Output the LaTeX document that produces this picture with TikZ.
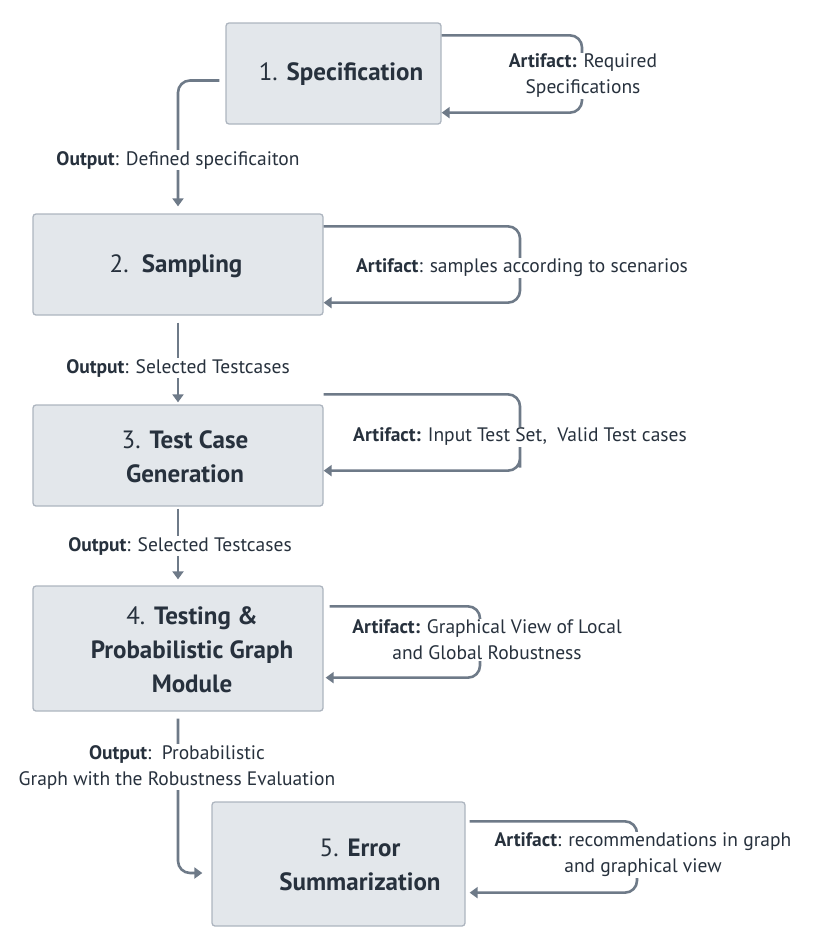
\documentclass[tikz,border=0pt]{standalone}
\usepackage{fontspec}
\setmainfont{PT Sans}
\usetikzlibrary{arrows.meta}
\definecolor{boxfill}{HTML}{E3E7EB}
\definecolor{boxborder}{HTML}{ADB5BF}
\definecolor{linec}{HTML}{6E7A88}
\definecolor{txt}{HTML}{27313D}
\tikzset{
 box/.style={draw=boxborder, fill=boxfill, line width=1.3pt, rounded corners=3pt, inner sep=0pt},
 btxt/.style={text=txt, font=\fontsize{25}{34}\selectfont, align=center, inner sep=0pt},
 ann/.style={text=txt, font=\fontsize{19.5}{26}\selectfont, fill=white, inner xsep=3pt, inner ysep=1pt, align=center},
 conn/.style={draw=linec, line width=2.6pt, rounded corners=12pt},
 arr/.style={-{Triangle[length=8pt,width=11pt]}}
}
\begin{document}
\begin{tikzpicture}[x=1pt,y=-1pt]
\useasboundingbox (0,0) rectangle (812,948);
% boxes
\node[box, minimum width=215pt, minimum height=101pt] (b1) at (333.5,73.5) {};
\node[box, minimum width=290pt, minimum height=101pt] (b2) at (178,264.5) {};
\node[box, minimum width=290pt, minimum height=101pt] (b3) at (178,455.5) {};
\node[box, minimum width=290pt, minimum height=125pt] (b4) at (178,648.5) {};
\node[box, minimum width=253pt, minimum height=124pt] (b5) at (338.5,864) {};
% box texts
\node[btxt] (t1) at (341,74) {1. \textbf{Specification}};
\node[btxt] (t2) at (176,266) {2.\ \ \textbf{Sampling}};
\node[btxt] (t3) at (185,457) {3. \textbf{Test Case}\\ \textbf{Generation}};
\node[btxt] (t4) at (192,650) {4. \textbf{Testing \&}\\ \textbf{Probabilistic Graph}\\ \textbf{Module}};
\node[btxt] (t5) at (360,865) {5. \textbf{Error}\\ \textbf{Summarization}};
% helper coordinates
\coordinate (c1) at (582,0);
\coordinate (c2) at (520,0);
\coordinate (c4) at (480,0);
\coordinate (c5) at (637,0);
% output connectors
\draw[conn,arr] ([xshift=-6pt,yshift=-7pt]b1.west) -| ([yshift=7pt]b2.north);
\draw[conn,arr] ([yshift=-7pt]b2.south) -- ([yshift=2pt]b3.north);
\draw[conn,arr] ([yshift=-2pt]b3.south) -- ([yshift=6pt]b4.north);
\draw[conn,arr] ([yshift=-7pt]b4.south) |- ([xshift=-9pt,yshift=-9pt]b5.west);
% artifact loops
\draw[conn,arr] ([yshift=-13pt]b1.north east) -| (c1 |- b1.center) |- ([yshift=12pt]b1.south east);
\draw[conn,arr] ([yshift=-13pt]b2.north east) -| (c2 |- b2.center) |- ([yshift=13pt]b2.south east);
\draw[conn,arr] ([yshift=10pt]b3.north east) -| (c2 |- b3.center) |- ([yshift=36pt]b3.south east);
\draw[conn,arr] ([xshift=6pt,yshift=-21pt]b4.north east) -| (c4 |- b4.center) |- ([xshift=2pt,yshift=34pt]b4.south east);
\draw[conn,arr] ([xshift=4pt,yshift=-20pt]b5.north east) -| (c5 |- b5.center) |- ([xshift=4pt,yshift=34pt]b5.south east);
% labels
\node[ann] (o1) at (178,160) {\textbf{Output}: Defined specificaiton};
\node[ann] (o2) at (178,368) {\textbf{Output}: Selected Testcases};
\node[ann] (o3) at (180,546) {\textbf{Output}: Selected Testcases};
\node[ann] (o4) at (177,767) {\textbf{Output}:\ \ Probabilistic\\ Graph with the Robustness Evaluation};
\node[ann] (a1) at (583,76) {\textbf{Artifact:} Required\\ Specifications};
\node[ann] (a2) at (522,268) {\textbf{Artifact}: samples according to scenarios};
\node[ann] (a3) at (520,437) {\textbf{Artifact:} Input Test Set,\ \ Valid Test cases};
\node[ann] (a4) at (487,640) {\textbf{Artifact:} Graphical View of Local\\ and Global Robustness};
\node[ann] (a5) at (643,855) {\textbf{Artifact}: recommendations in graph\\ and graphical view};
\end{tikzpicture}
\end{document}
